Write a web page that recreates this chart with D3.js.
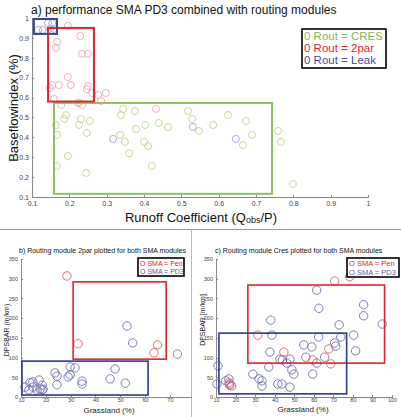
<!DOCTYPE html>
<html>
<head>
<meta charset="utf-8">
<script src="https://cdn.jsdelivr.net/npm/d3@7"></script>
<style>
body { margin: 0; background: #fff; }
svg { display: block; font-family: Arial, "Liberation Sans", sans-serif; }
.axis path, .axis line { stroke: #888; shape-rendering: crispEdges; }
.axis text { fill: #444; }
</style>
</head>
<body>
<div id="container"></div>
<script>
// panel a: runoff coefficient vs baseflow index
var cresRC = [0.178,0.223,0.234,0.191,0.186,0.164,0.167,0.226,0.231,0.255,0.247,0.344,0.338,0.376,0.336,0.349,0.379,0.403,0.440,0.464,0.400,0.411,0.360,0.196,0.167,0.245,0.421,0.518,0.529,0.547,0.585,0.625,0.673,0.689,0.665,0.759,0.767,0.799];
var cresBFI = [0.563,0.573,0.563,0.512,0.492,0.462,0.412,0.462,0.492,0.482,0.422,0.542,0.512,0.532,0.412,0.377,0.442,0.462,0.472,0.452,0.377,0.356,0.320,0.306,0.256,0.221,0.256,0.532,0.492,0.432,0.462,0.512,0.482,0.412,0.361,0.432,0.377,0.165];
var twoparRC = [0.196,0.229,0.167,0.164,0.234,0.250,0.196,0.204,0.154,0.148,0.172,0.250,0.247,0.261,0.277,0.298,0.159,0.226,0.285,0.148,0.432];
var twoparBFI = [0.960,0.910,0.880,0.850,0.820,0.820,0.703,0.663,0.663,0.648,0.663,0.658,0.643,0.623,0.613,0.623,0.593,0.573,0.583,0.945,0.543];
var leakRC = [0.116,0.129,0.143,0.154,0.159,0.317,0.531,0.646];
var leakBFI = [0.940,0.940,0.975,0.975,0.945,0.392,0.452,0.392];
// performance boxes [x0, x1, y0, y1]
var boxCres = [0.159, 0.743, 0.116, 0.573];
var box2par = [0.143, 0.266, 0.580, 0.950];
var boxLeak = [0.105, 0.167, 0.920, 0.995];
var ticksA = [0.1,0.2,0.3,0.4,0.5,0.6,0.7,0.8,0.9,1];

// panel b: 2par, grassland vs DPSBAR
var bPenGrass = [28.5,33,65,63.6];
var bPenDps = [307,135,132,112];
var bPd3Grass = [52.7,55,73,47.9,45.9,52,34.6,34.6,31.8,29.8,29,29.8,23.7,24.5,24.5,17.3,17.7,18.5,18.9,14.8,13.6,11.6,13.2,16.5,14.8,18.5];
var bPd3Dps = [180,137,109,71,46,35,40,33,74,76,51,56,61,31,53,43,20,30,20,38,36,25,18,18,25,18];
var bBoxPen = [31, 68.5, 96, 292];
var bBoxPd3 = [10.4, 61.2, 5, 91];

// panel c: Cres, grassland vs DPSBAR
var cPenGrass = [70.7,78.4,31.4,67.7,44.7,59.5,68.7,16.6,17];
var cPenDps = [294,305,157,122,114,94,84,36,33];
var cPd3Grass = [61.5,62.6,85.5,85.5,38,73,95,38.6,62.5,80.4,73.8,81.4,70.7,71.2,54.9,59,37.6,42.7,44,47.8,55.9,46.2,65.6,61.5,37,11,28.9,48.8,49.8,59.5,32,33.5,33.5,41.6,43.7,47.8,10.5,15,16.6,17,18];
var cPd3Dps = [271,225,234,206,195,183,185,157,152,157,152,117,137,129,132,127,114,96,94,96,101,86,101,86,76,79,58,69,58,58,46,41,28,33,33,25,33,41,46,30,28];
var cBoxPen = [26.3, 96.2, 86, 284];
var cBoxPd3 = [11.5, 76.8, 8, 162];
var ticksX_b = [10,20,30,40,50,60,70];
var ticksX_c = [10,20,30,40,50,60,70,80,90,100];
var ticksY_bc = [0,50,100,150,200,250,300,350];

var W = 401, H = 417;
var svg = d3.select("#container").append("svg").attr("width", W).attr("height", H);

function drawAxes(g, x, y, xt, yt, fmtX, fmtY, fs, padX) {
	var xa = g.append("g").attr("class", "axis")
		.attr("transform", "translate(0," + y.range()[0] + ")")
		.call(d3.axisBottom(x).tickValues(xt).tickFormat(fmtX).tickSizeInner(-2).tickSizeOuter(0).tickPadding(padX));
	var ya = g.append("g").attr("class", "axis")
		.attr("transform", "translate(" + x.range()[0] + ",0)")
		.call(d3.axisLeft(y).tickValues(yt).tickFormat(fmtY).tickSizeInner(-2).tickSizeOuter(0).tickPadding(3));
	xa.selectAll("text").style("font-size", fs + "px");
	ya.selectAll("text").style("font-size", fs + "px");
}

function drawBox(g, x, y, b, col, sw) {
	g.append("rect")
		.attr("x", x(b[0])).attr("y", y(b[3]))
		.attr("width", x(b[1]) - x(b[0])).attr("height", y(b[2]) - y(b[3]))
		.style("fill", "none").style("stroke", col).style("stroke-width", sw);
}

function drawPoints(g, x, y, xs, ys, col, r) {
	g.selectAll(null).data(xs).enter().append("circle")
		.attr("cx", function(d) { return x(d); })
		.attr("cy", function(d, i) { return y(ys[i]); })
		.attr("r", r)
		.style("fill", "none").style("stroke", col).style("stroke-width", 0.9);
}

function legend(g, x0, y0, w, h, items, fs, lh) {
	g.append("rect").attr("x", x0).attr("y", y0).attr("width", w).attr("height", h)
		.style("fill", "#fff").style("stroke", "#000").style("stroke-width", 1.6);
	items.forEach(function(it, i) {
		g.append("text").attr("x", x0 + 2).attr("y", y0 + lh * (i + 1) - 1)
			.style("font-size", fs + "px").style("fill", it[1]).text(it[0]);
	});
}

// ---- panel a
var ga = svg.append("g");
var xa = d3.scaleLinear().domain([0.1, 1]).range([32, 368]);
var ya = d3.scaleLinear().domain([0.1, 1]).range([197, 18]);
drawAxes(ga, xa, ya, ticksA, ticksA.slice(0), d3.format("~g"), d3.format("~g"), 7, 4);
drawPoints(ga, xa, ya, cresRC, cresBFI, "#bcd596", 3.5);
drawPoints(ga, xa, ya, twoparRC, twoparBFI, "#f2a3ab", 3.5);
drawPoints(ga, xa, ya, leakRC, leakBFI, "#a3a3d4", 3.5);
drawBox(ga, xa, ya, boxCres, "#8cc063", 2);
drawBox(ga, xa, ya, box2par, "#e2242e", 2);
drawBox(ga, xa, ya, boxLeak, "#34449a", 2);

ga.append("text").attr("x", 31).attr("y", 14).style("font-size", "12px").style("fill", "#111")
	.text("a) performance SMA PD3 combined with routing modules");
ga.append("text").attr("transform", "translate(18,108) rotate(-90)").attr("text-anchor", "middle")
	.style("font-size", "13px").style("fill", "#111").text("Baseflowindex (%)");
var xl = ga.append("text").attr("x", 201).attr("y", 222).attr("text-anchor", "middle")
	.style("font-size", "13px").style("fill", "#111");
xl.append("tspan").text("Runoff Coefficient (Q");
xl.append("tspan").style("font-size", "9px").attr("dy", 1).text("obs");
xl.append("tspan").attr("dy", -1).text("/P)");
legend(ga, 302, 29, 84, 39, [["0 Rout = CRES", "#7fb84e"], ["0 Rout = 2par", "#e2242e"], ["0 Rout = Leak", "#4a4c9e"]], 11.5, 12);

// dividers
svg.append("line").attr("x1", 0).attr("x2", W).attr("y1", 229.5).attr("y2", 229.5)
	.style("stroke", "#999").style("stroke-width", 1);
svg.append("line").attr("x1", 191.5).attr("x2", 191.5).attr("y1", 229).attr("y2", H)
	.style("stroke", "#bbb").style("stroke-width", 1);

// ---- panel b
var gb = svg.append("g");
var xb = d3.scaleLinear().domain([10, 78.5]).range([21, 191]);
var yb = d3.scaleLinear().domain([0, 350]).range([397, 259]);
drawAxes(gb, xb, yb, ticksX_b, ticksY_bc, d3.format("d"), d3.format("d"), 5.5, 1.5);
drawPoints(gb, xb, yb, bPd3Grass, bPd3Dps, "#6e6eb4", 4.2);
drawPoints(gb, xb, yb, bPenGrass, bPenDps, "#e65a5a", 4.2);
drawBox(gb, xb, yb, bBoxPen, "#e2242e", 1.6);
drawBox(gb, xb, yb, bBoxPd3, "#2c3a8c", 1.6);
gb.append("text").attr("x", 19).attr("y", 253).style("font-size", "7px").style("fill", "#111")
	.text("b) Routing module 2par plotted for both SMA modules");
gb.append("text").attr("transform", "translate(9,330) rotate(-90)").attr("text-anchor", "middle")
	.style("font-size", "7px").style("fill", "#222").text("DPSBAR (m/km)");
gb.append("text").attr("x", 109).attr("y", 413).attr("text-anchor", "middle")
	.style("font-size", "8px").style("fill", "#222").text("Grassland (%)");
legend(gb, 138, 258, 46, 18, [["O SMA = Pen", "#e2242e"], ["O SMA = PD3", "#5a5aa8"]], 7, 8.5);

// ---- panel c
var gc = svg.append("g");
var xc = d3.scaleLinear().domain([10, 100]).range([216, 392]);
var yc = d3.scaleLinear().domain([0, 350]).range([397, 259]);
drawAxes(gc, xc, yc, ticksX_c, ticksY_bc, d3.format("d"), d3.format("d"), 5.5, 1.5);
drawPoints(gc, xc, yc, cPd3Grass, cPd3Dps, "#6e6eb4", 4.2);
drawPoints(gc, xc, yc, cPenGrass, cPenDps, "#e65a5a", 4.2);
drawBox(gc, xc, yc, cBoxPen, "#e2242e", 1.6);
drawBox(gc, xc, yc, cBoxPd3, "#2c3a8c", 1.6);
gc.append("text").attr("x", 215).attr("y", 253).style("font-size", "7px").style("fill", "#111")
	.text("c) Routing module Cres plotted for both SMA modules");
gc.append("text").attr("transform", "translate(205,320) rotate(-90)").attr("text-anchor", "middle")
	.style("font-size", "7px").style("fill", "#222").text("DPSBAR [m/km]");
gc.append("text").attr("x", 303).attr("y", 412).attr("text-anchor", "middle")
	.style("font-size", "8px").style("fill", "#222").text("Grassland (%)");
legend(gc, 347, 258, 52, 19, [["O SMA = Pen", "#e2242e"], ["O SMA = PD3", "#5a5aa8"]], 7.5, 9);
</script>
</body>
</html>
